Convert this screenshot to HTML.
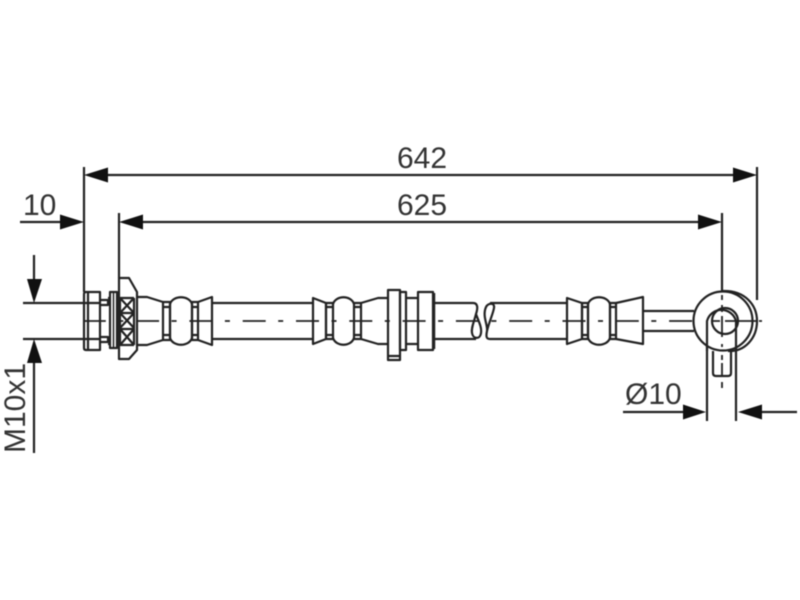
<!DOCTYPE html>
<html><head><meta charset="utf-8"><style>
html,body{margin:0;padding:0;background:#fff;width:800px;height:600px;overflow:hidden}
svg{display:block}
text{font-family:"Liberation Sans",sans-serif;font-size:30px;fill:#333}
.l{fill:none;stroke:#222;stroke-width:2.2;stroke-linejoin:round}
.t{fill:none;stroke:#222;stroke-width:1.8}
.c{fill:none;stroke:#222;stroke-width:1.8;stroke-dasharray:23 12.5 5 12.8;stroke-dashoffset:1.2}
.a{fill:#111;stroke:none}
</style></head><body>
<svg width="800" height="600" viewBox="0 0 800 600" xmlns="http://www.w3.org/2000/svg" style="filter:blur(.4px)">
<text x="397" y="168">642</text>
<text x="397" y="215">625</text>
<text x="23" y="215">10</text>
<text x="625" y="404">Ø10</text>
<text transform="translate(25,453) rotate(-90)">M10x1</text>
<g class="l">
<path d="M84 167V292M757 167V300M119 213V278M722 213V291"/>
<path d="M108 175H733M143 222H698M20 222H60"/>
<path d="M34 255V280M34 362V453"/>
<path d="M23 303H84M23 339H84"/>
<path d="M623 412H683M762 412H797"/>
<path d="M707 321V421M736 321V421"/>
<path d="M84 294Q84 292 86 292H100V350H86Q84 350 84 348Z"/>
<path d="M88 292V350"/>
<path d="M84 303H100M84 339H100"/>
<path d="M100 300H108V305H100M100 342H108V337H100"/>
<path d="M108 298H110M108 344H110"/>
<path d="M110 292H117V348H110Z"/>
<path d="M113.5 292V348" style="stroke-width:1.5"/>
<path d="M119 278H129L137 292V350L129 359H119Z"/>
<path d="M120 298L134 313M134 298L120 313M120 313L134 328M134 313L120 328M120 329L134 345M134 329L120 345M120 298H134M120 313H134M120 329H134M120 345H134M120 298V345M134 298V345"/>
<path d="M137 297H147L163 302M137 345H147L163 340"/>
<path d="M163 302H170V340H163ZM163 307H170M163 335H170"/>
<path d="M170 304C173 295 189 295 192 304M170 338C173 347 189 347 192 338"/>
<path d="M170 304V338M192 304V338"/>
<path d="M192 302H198V340H192ZM192 307H198M192 335H198"/>
<path d="M198 302L212 297V345L198 340"/>
<path d="M212 303H313M212 339H313"/>
<path d="M313 298L326 303V339L313 344Z"/>
<path d="M326 303H333V339H326ZM326 307H333M326 335H333"/>
<path d="M333 304C336 295 351 295 354 304M333 338C336 347 351 347 354 338"/>
<path d="M354 303H361V339H354ZM354 307H361M354 335H361"/>
<path d="M361 303L378 298H388M361 339L378 344H388"/>
<path d="M388 290H400V360H388ZM389 356H399"/>
<path d="M400 292H406V350H400Z"/>
<path d="M406 298H418M406 344H418"/>
<path d="M418 292H433V350H418Z"/>
<path d="M434 293V349" style="stroke-width:2.5"/>
<path d="M434 303H473C478 303 478 308 476 314C474 322 471 328 472 333C473 339 480 340 481 333C482 327 478 320 476 314"/>
<path d="M434 339H476"/>
<path d="M490 339C486 339 486 336 487 331C488 325 482 316 486 307C488 303 495 302 494 308C493 314 489 322 487 331"/>
<path d="M490 303H567M490 339H567"/>
<path d="M567 298L582 303V339L567 344Z"/>
<path d="M582 303H588V339H582ZM582 307H588M582 335H588"/>
<path d="M588 304C591 295 607 295 610 304M588 338C591 347 607 347 610 338"/>
<path d="M588 304V338M610 304V338"/>
<path d="M610 303H616V339H610ZM610 307H616M610 335H616"/>
<path d="M616 303L643 297V344L616 339"/>
<path d="M643 311H694M643 331H694"/>
<circle cx="723" cy="321" r="29.5" fill="#fff"/>
<path d="M722 291C745 290 757 305 757 321C757 338 745 352 728 351"/>
<path d="M707 351V321A15 15 0 0 1 736 321V351"/>
<circle cx="725" cy="321" r="13"/>
<path d="M713 351V373Q713 376 716 376H728Q731 376 731 373V351"/>
</g>
<path class="c" d="M84 321H693"/>
<path class="t" d="M713 321H720M725 321H757M759 321H762"/>
<path class="t" d="M722 295V300M722 305V312M722 316V337M722 344V347M722 355V360M722 363V375M722 382V388"/>
<path class="a" d="M84 175L108 167.5V182.5Z"/>
<path class="a" d="M757 175L733 167.5V182.5Z"/>
<path class="a" d="M119 222L143 214.5V229.5Z"/>
<path class="a" d="M722 222L698 214.5V229.5Z"/>
<path class="a" d="M84 222L60 214.5V229.5Z"/>
<path class="a" d="M34 303L27 279H42Z"/>
<path class="a" d="M34 339L27 363H42Z"/>
<path class="a" d="M706 412L683 404.5V419.5Z"/>
<path class="a" d="M738 412L762 404.5V419.5Z"/>
</svg>
</body></html>
